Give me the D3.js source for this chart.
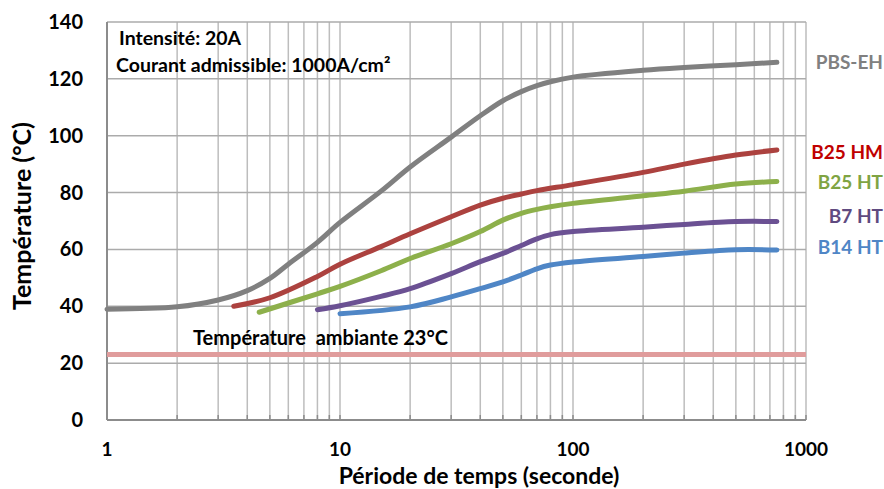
<!DOCTYPE html>
<html>
<head>
<meta charset="utf-8">
<script src="https://cdn.jsdelivr.net/npm/d3@7"></script>
<style>
  body { margin: 0; background: #fff; }
  svg { display: block; font-family: Lato, "Open Sans", sans-serif; font-weight: bold; }
</style>
</head>
<body>
<div id="chart"></div>
<script>
const w = 884;
const h = 489;

// data (time in seconds, temperature in °C)
const seriesNames = ["PBS-EH", "B25 HM", "B25 HT", "B7 HT", "B14 HT"];
const pbsT = [1, 2, 3, 4, 5, 6, 8, 10, 15, 20, 30, 40, 50, 60, 70, 80, 100, 200, 300, 500, 750];
const pbsV = [39, 39.8, 42.2, 45.5, 49.8, 54.8, 62.5, 69.5, 80.5, 89, 99.5, 107, 112.3, 115.5, 117.6, 119, 120.6, 123, 124, 125, 125.8];
const b25hmT = [3.5, 5, 8, 10, 15, 20, 30, 40, 50, 60, 70, 100, 200, 300, 500, 750];
const b25hmV = [40, 43, 50.5, 54.8, 61, 65.5, 71.5, 75.6, 78, 79.5, 80.7, 82.8, 87.1, 90, 93.2, 95];
const b25htT = [4.5, 8, 10, 15, 20, 30, 40, 50, 60, 70, 80, 100, 200, 300, 500, 750];
const b25htV = [37.9, 44.4, 47, 52.5, 56.8, 62, 66.3, 70.3, 72.7, 74.1, 75, 76.2, 78.9, 80.5, 83, 83.9];
const b7htT = [8, 10, 15, 20, 30, 40, 50, 60, 70, 80, 100, 200, 300, 500, 750];
const b7htV = [38.8, 40.2, 43.5, 46.2, 51.5, 55.7, 58.6, 61.4, 63.7, 65.2, 66.3, 67.8, 68.8, 69.8, 69.8];
const b14htT = [10, 20, 30, 40, 50, 60, 70, 80, 100, 200, 300, 500, 750];
const b14htV = [37.4, 39.8, 43.3, 46.2, 48.6, 51, 53.2, 54.5, 55.6, 57.5, 58.7, 59.9, 59.8];
const ambient = 23;
const yTicks = [0, 20, 40, 60, 80, 100, 120, 140];
const xTicks = [1, 10, 100, 1000];

const lineColors = ["#808080", "#ac423f", "#8db04b", "#6b5193", "#4f86c6"];
const labelColors = ["#808080", "#c00000", "#7fa443", "#5f4a80", "#4f86c6"];
const labelNudge = [0, 2, 1, -6, -3];

const series = [
  { t: pbsT, v: pbsV },
  { t: b25hmT, v: b25hmV },
  { t: b25htT, v: b25htV },
  { t: b7htT, v: b7htV },
  { t: b14htT, v: b14htV }
];

let x = d3.scaleLog().domain([1, 1000]).range([107, 806]);
let y = d3.scaleLinear().domain([0, 140]).range([420, 22]);

let svg = d3
  .select("#chart")
  .append("svg")
  .attr("width", w)
  .attr("height", h);

// grid
let minor = [];
for (let d = 1; d < 1000; d *= 10) for (let k = 1; k <= 10; k++) minor.push(d * k);
minor = Array.from(new Set(minor));

svg
  .append("g")
  .selectAll("line")
  .data(minor)
  .enter()
  .append("line")
  .attr("x1", d => x(d))
  .attr("x2", d => x(d))
  .attr("y1", y(140))
  .attr("y2", y(0))
  .attr("stroke", "#bdbdbd")
  .attr("stroke-width", 1.5);

svg
  .append("g")
  .selectAll("line")
  .data(yTicks)
  .enter()
  .append("line")
  .attr("x1", x(1))
  .attr("x2", x(1000))
  .attr("y1", d => y(d))
  .attr("y2", d => y(d))
  .attr("stroke", "#ababab")
  .attr("stroke-width", 1.5);

// small ticks on the bottom axis
svg
  .append("g")
  .selectAll("line")
  .data(minor)
  .enter()
  .append("line")
  .attr("x1", d => x(d))
  .attr("x2", d => x(d))
  .attr("y1", y(0))
  .attr("y2", y(0) - 5)
  .attr("stroke", "#8c8c8c")
  .attr("stroke-width", 1.5);

// axes lines
svg.append("line")
  .attr("x1", x(1)).attr("x2", x(1000))
  .attr("y1", y(0)).attr("y2", y(0))
  .attr("stroke", "#8c8c8c").attr("stroke-width", 2);
svg.append("line")
  .attr("x1", x(1)).attr("x2", x(1))
  .attr("y1", y(0)).attr("y2", y(140))
  .attr("stroke", "#8c8c8c").attr("stroke-width", 2);

// tick labels
svg
  .append("g")
  .selectAll("text")
  .data(yTicks)
  .enter()
  .append("text")
  .attr("x", 83)
  .attr("y", d => y(d) + 7)
  .attr("text-anchor", "end")
  .attr("font-size", 20)
  .attr("fill", "#000")
  .text(d => d);

svg
  .append("g")
  .selectAll("text")
  .data(xTicks)
  .enter()
  .append("text")
  .attr("x", d => x(d))
  .attr("y", 456)
  .attr("text-anchor", "middle")
  .attr("font-size", 19)
  .attr("fill", "#000")
  .text(d => d);

// axis titles
svg.append("text")
  .attr("x", 479).attr("y", 484)
  .attr("text-anchor", "middle")
  .attr("font-size", 23)
  .text("Période de temps (seconde)");
svg.append("text")
  .attr("transform", "translate(31,216) rotate(-90)")
  .attr("text-anchor", "middle")
  .attr("font-size", 25)
  .text("Température (°C)");

// ambient temperature
svg.append("line")
  .attr("x1", x(1)).attr("x2", x(1000))
  .attr("y1", y(ambient)).attr("y2", y(ambient))
  .attr("stroke", "#e09c9c").attr("stroke-width", 5);
svg.append("text")
  .attr("x", 193).attr("y", 345)
  .attr("font-size", 20)
  .style("white-space", "pre")
  .text("Température  ambiante 23°C");

// series
let line = d3
  .line()
  .x(d => x(d[0]))
  .y(d => y(d[1]))
  .curve(d3.curveCatmullRom.alpha(0.5));

svg
  .append("g")
  .selectAll("path")
  .data(series)
  .enter()
  .append("path")
  .attr("d", s => line(s.t.map((t, i) => [t, s.v[i]])))
  .attr("fill", "none")
  .attr("stroke", (s, i) => lineColors[i])
  .attr("stroke-width", 5)
  .attr("stroke-linecap", "round")
  .attr("stroke-linejoin", "round");

// series labels
svg
  .append("g")
  .selectAll("text")
  .data(series)
  .enter()
  .append("text")
  .attr("x", 883)
  .attr("y", (s, i) => y(s.v[s.v.length - 1]) + 7 + labelNudge[i])
  .attr("text-anchor", "end")
  .attr("font-size", 19)
  .attr("fill", (s, i) => labelColors[i])
  .text((s, i) => seriesNames[i]);

// notes
svg.append("text")
  .attr("x", 119).attr("y", 45)
  .attr("font-size", 19.5)
  .text("Intensité: 20A");
svg.append("text")
  .attr("x", 116).attr("y", 72)
  .attr("font-size", 19.5)
  .text("Courant admissible: 1000A/cm²");
</script>
</body>
</html>
